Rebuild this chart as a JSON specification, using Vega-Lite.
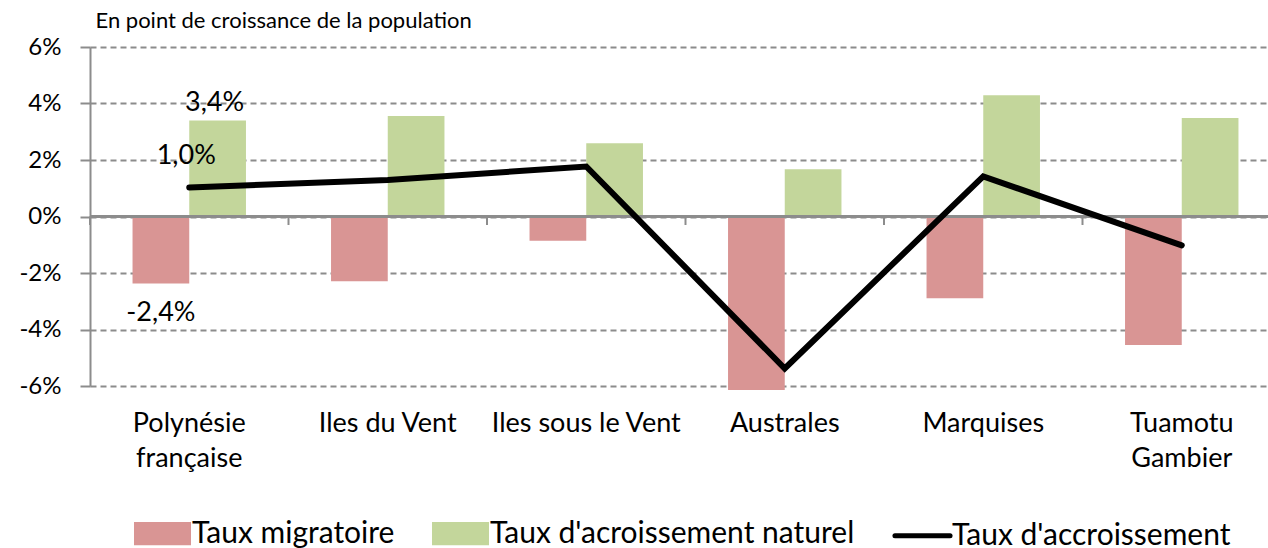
{
  "$schema": "https://vega.github.io/schema/vega-lite/v6.json",
  "autosize": {"type": "none"},
  "padding": {"left": 90, "right": -13, "top": 47, "bottom": 162},
  "width": 1191,
  "height": 339,
  "config": {
    "view": {"stroke": null},
    "font": "Lato",
    "locale": {"number": {"decimal": ",", "thousands": " ", "grouping": [3], "currency": ["", " €"], "minus": "-"}}
  },
  "data": {
    "values": [
      {"region": "Polynésie française", "type": "migr", "serie": "Taux migratoire", "value": -0.0237},
      {"region": "Polynésie française", "type": "nat", "serie": "Taux d'acroissement naturel", "value": 0.034},
      {"region": "Polynésie française", "type": "total", "serie": "Taux d'accroissement", "value": 0.0103},
      {"region": "Iles du Vent", "type": "migr", "serie": "Taux migratoire", "value": -0.0229},
      {"region": "Iles du Vent", "type": "nat", "serie": "Taux d'acroissement naturel", "value": 0.0356},
      {"region": "Iles du Vent", "type": "total", "serie": "Taux d'accroissement", "value": 0.0129},
      {"region": "Iles sous le Vent", "type": "migr", "serie": "Taux migratoire", "value": -0.0086},
      {"region": "Iles sous le Vent", "type": "nat", "serie": "Taux d'acroissement naturel", "value": 0.0259},
      {"region": "Iles sous le Vent", "type": "total", "serie": "Taux d'accroissement", "value": 0.0177},
      {"region": "Australes", "type": "migr", "serie": "Taux migratoire", "value": -0.0614},
      {"region": "Australes", "type": "nat", "serie": "Taux d'acroissement naturel", "value": 0.0167},
      {"region": "Australes", "type": "total", "serie": "Taux d'accroissement", "value": -0.0538},
      {"region": "Marquises", "type": "migr", "serie": "Taux migratoire", "value": -0.0289},
      {"region": "Marquises", "type": "nat", "serie": "Taux d'acroissement naturel", "value": 0.0429},
      {"region": "Marquises", "type": "total", "serie": "Taux d'accroissement", "value": 0.0142},
      {"region": "Tuamotu Gambier", "type": "migr", "serie": "Taux migratoire", "value": -0.0455},
      {"region": "Tuamotu Gambier", "type": "nat", "serie": "Taux d'acroissement naturel", "value": 0.0349},
      {"region": "Tuamotu Gambier", "type": "total", "serie": "Taux d'accroissement", "value": -0.0102}
    ]
  },
  "layer": [
    {
      "transform": [{"filter": "datum.type !== 'total'"}],
      "mark": {"type": "bar"},
      "encoding": {
        "x": {
          "field": "region", "type": "nominal",
          "sort": ["Polynésie française", "Iles du Vent", "Iles sous le Vent", "Australes", "Marquises", "Tuamotu Gambier"],
          "scale": {"paddingInner": 0, "paddingOuter": 0},
          "axis": {
            "title": null, "domain": false, "ticks": false, "grid": false, "labelAngle": 0,
            "labelFont": "Lato", "labelFontSize": 27, "labelColor": "black", "labelPadding": 24, "labelLineHeight": 35, "labelLimit": 400,
            "labelExpr": "datum.label == 'Polynésie française' ? ['Polynésie', 'française'] : datum.label == 'Tuamotu Gambier' ? ['Tuamotu', 'Gambier'] : datum.label"
          }
        },
        "xOffset": {
          "field": "serie", "type": "nominal",
          "scale": {"domain": ["Taux migratoire", "Taux d'acroissement naturel"], "paddingInner": 0, "paddingOuter": 0.75}
        },
        "y": {
          "field": "value", "type": "quantitative",
          "scale": {"domain": [-0.06, 0.06], "nice": false},
          "axis": {
            "title": "En point de croissance de la population",
            "titleAngle": 0, "titleAlign": "left", "titleBaseline": "alphabetic", "titleX": 5, "titleY": -20,
            "titleFont": "Lato", "titleFontSize": 22, "titleFontWeight": "normal", "titleColor": "black",
            "values": [-0.06, -0.04, -0.02, 0, 0.02, 0.04, 0.06], "format": ".0%",
            "grid": true, "gridDash": [6, 4], "gridColor": "#8c8c8c", "gridWidth": 2,
            "domainColor": "#8c8c8c", "domainWidth": 2, "tickColor": "#8c8c8c", "tickSize": 10, "tickWidth": 2,
            "labelFont": "Lato", "labelFontSize": 24, "labelColor": "black", "labelPadding": 19
          }
        },
        "color": {
          "field": "serie", "type": "nominal",
          "scale": {"domain": ["Taux migratoire", "Taux d'acroissement naturel", "Taux d'accroissement"], "range": ["#D99594", "#C3D69B", "#000000"]},
          "legend": {
            "title": null, "orient": "none", "direction": "horizontal", "legendX": 44, "legendY": 458,
            "labelFont": "Lato", "labelFontSize": 30, "labelColor": "black", "labelOffset": 1, "labelLimit": 0,
            "symbolSize": 2704, "columnPadding": 29,
            "encode": {
              "symbols": {
                "update": {
                  "shape": {"signal": "test(/accroissement/, datum.value) ? 'M-1.06,0H1.06' : 'M-1,-0.35H1V0.35H-1Z'"},
                  "fill": {"signal": "test(/accroissement/, datum.value) ? 'transparent' : scale('color', datum.value)"},
                  "stroke": {"signal": "test(/accroissement/, datum.value) ? 'black' : 'transparent'"},
                  "strokeWidth": {"value": 5},
                  "strokeCap": {"value": "round"},
                  "opacity": {"value": 1}
                }
              }
            }
          }
        }
      }
    },
    {
      "mark": {"type": "rule", "color": "#8c8c8c", "strokeWidth": 2},
      "encoding": {"y": {"datum": 0}}
    },
    {
      "transform": [{"filter": "datum.type === 'total'"}],
      "mark": {"type": "rule", "color": "#8c8c8c", "strokeWidth": 2},
      "encoding": {
        "x": {"field": "region", "type": "nominal", "bandPosition": 0, "sort": ["Polynésie française", "Iles du Vent", "Iles sous le Vent", "Australes", "Marquises", "Tuamotu Gambier"]},
        "y": {"datum": 0},
        "y2": {"datum": -0.003}
      }
    },
    {
      "transform": [{"filter": "datum.type === 'total'"}],
      "mark": {"type": "line", "strokeWidth": 6, "strokeCap": "round", "strokeJoin": "miter"},
      "encoding": {
        "x": {"field": "region", "type": "nominal", "sort": ["Polynésie française", "Iles du Vent", "Iles sous le Vent", "Australes", "Marquises", "Tuamotu Gambier"]},
        "y": {"field": "value", "type": "quantitative"},
        "color": {"field": "serie", "type": "nominal"}
      }
    },
    {
      "transform": [{"filter": "datum.region === 'Polynésie française' && datum.type === 'nat'"}],
      "mark": {"type": "text", "font": "Lato", "fontSize": 27, "color": "black", "baseline": "bottom", "dy": -3, "dx": -3},
      "encoding": {
        "x": {"field": "region", "type": "nominal", "sort": ["Polynésie française", "Iles du Vent", "Iles sous le Vent", "Australes", "Marquises", "Tuamotu Gambier"]},
        "xOffset": {"field": "serie", "type": "nominal"},
        "y": {"field": "value", "type": "quantitative"},
        "text": {"field": "value", "type": "quantitative", "format": ".1%"}
      }
    },
    {
      "transform": [{"filter": "datum.region === 'Polynésie française' && datum.type === 'total'"}],
      "mark": {"type": "text", "font": "Lato", "fontSize": 27, "color": "black", "baseline": "bottom", "dy": -17, "dx": -3},
      "encoding": {
        "x": {"field": "region", "type": "nominal", "sort": ["Polynésie française", "Iles du Vent", "Iles sous le Vent", "Australes", "Marquises", "Tuamotu Gambier"]},
        "y": {"field": "value", "type": "quantitative"},
        "text": {"field": "value", "type": "quantitative", "format": ".1%"}
      }
    },
    {
      "transform": [{"filter": "datum.region === 'Polynésie française' && datum.type === 'migr'"}],
      "mark": {"type": "text", "font": "Lato", "fontSize": 27, "color": "black", "baseline": "middle", "dy": 30},
      "encoding": {
        "x": {"field": "region", "type": "nominal", "sort": ["Polynésie française", "Iles du Vent", "Iles sous le Vent", "Australes", "Marquises", "Tuamotu Gambier"]},
        "xOffset": {"field": "serie", "type": "nominal"},
        "y": {"field": "value", "type": "quantitative"},
        "text": {"field": "value", "type": "quantitative", "format": ".1%"}
      }
    }
  ]
}
